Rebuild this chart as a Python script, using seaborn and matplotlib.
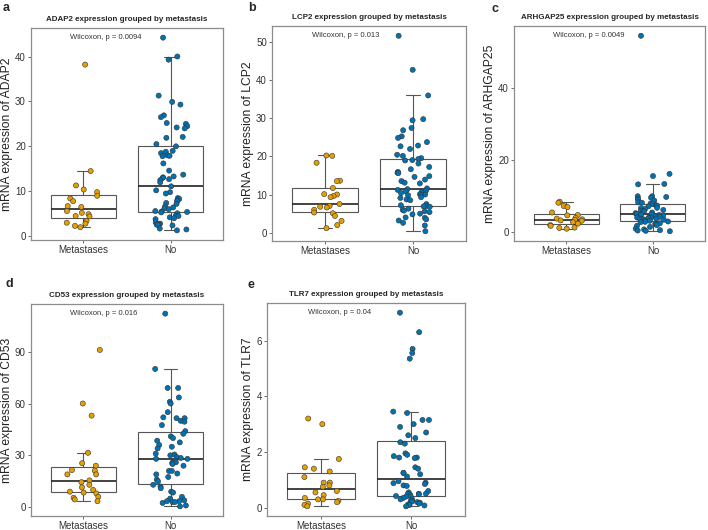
import numpy as np
import pandas as pd
import matplotlib
matplotlib.use("Agg")
import matplotlib.pyplot as plt
import seaborn as sns

groups = ["Metastases", "No"]

adap2_met = [38.2, 14.5, 11.3, 10.4, 9.8, 9.0, 8.4, 7.8, 6.7, 6.5, 5.6, 5.2, 4.9, 4.5,
             4.4, 3.4, 3.0, 2.8, 2.3, 2.0]
adap2_no = [44.2, 40.0, 39.3, 31.3, 29.9, 29.3, 26.9, 26.5, 25.2, 25.0, 24.5, 24.2, 24.0,
            22.1, 21.9, 20.5, 20.0, 19.0, 18.8, 18.5, 18.0, 17.9, 17.8, 16.2, 14.6, 13.7,
            13.3, 13.1, 13.0, 12.7, 12.5, 12.0, 11.1, 10.2, 9.8, 9.5, 8.5, 8.3, 8.0, 7.8,
            7.4, 7.2, 6.6, 6.4, 6.2, 6.0, 5.6, 5.5, 5.4, 5.3, 5.1, 4.6, 4.5, 4.2, 4.0, 3.8,
            3.1, 2.8, 2.7, 2.6, 2.5, 2.4, 1.7, 1.5, 1.3]

lcp2_met = [20.2, 20.1, 18.3, 13.6, 13.5, 11.7, 10.1, 10.0, 9.6, 9.3, 7.5, 7.0, 6.8, 6.6,
            6.0, 5.3, 5.1, 4.4, 3.1, 2.0, 1.2]
lcp2_no = [51.5, 42.6, 35.9, 29.7, 29.4, 27.4, 26.8, 25.2, 24.8, 23.7, 22.8, 22.6, 21.9,
           20.4, 20.1, 19.5, 19.3, 19.0, 18.9, 18.1, 17.2, 16.6, 15.9, 15.7, 15.6, 14.8,
           14.6, 13.9, 13.5, 13.1, 12.9, 11.6, 11.4, 11.2, 11.0, 10.8, 10.6, 10.4, 10.1,
           10.0, 9.9, 9.8, 9.3, 9.1, 8.7, 8.5, 7.5, 7.2, 7.0, 6.9, 6.8, 6.3, 6.0, 5.8,
           5.6, 5.4, 5.0, 4.8, 4.0, 3.9, 3.5, 3.2, 2.6, 1.9, 0.4]

arhgap25_met = [8.5, 8.2, 7.3, 7.0, 5.5, 4.8, 4.7, 4.0, 3.8, 3.6, 3.5, 3.3, 3.2, 2.8, 2.4,
                2.0, 1.8, 1.3, 1.2, 1.0]
arhgap25_no = [54.5, 16.2, 15.6, 13.4, 13.3, 10.0, 10.0, 9.8, 9.6, 9.4, 9.0, 8.8, 8.3, 8.2,
               8.0, 7.8, 7.5, 7.4, 7.2, 6.8, 6.7, 6.5, 6.2, 6.0, 5.9, 5.8, 5.5, 5.3, 5.1,
               5.0, 4.9, 4.8, 4.7, 4.5, 4.3, 4.2, 4.1, 4.0, 3.9, 3.8, 3.7, 3.6, 3.5, 3.3,
               3.2, 3.0, 2.9, 2.8, 2.5, 2.3, 2.0, 1.8, 1.5, 1.0, 0.8, 0.6, 0.5, 0.4, 0.3]

cd53_met = [91, 60, 53, 31.5, 25.5, 24, 21.5, 21.2, 19, 19, 15.5, 14.5, 13, 11.5, 10, 9,
            8.5, 8, 6, 5.5, 4.5, 3.5]
cd53_no = [112, 80, 69, 69, 63.5, 61, 60, 55, 52, 51.5, 51.5, 50, 49.5, 47.5, 44, 42.5,
           41, 40, 38.5, 37.5, 36, 35, 34, 31, 30.5, 30, 29, 28.5, 28, 28, 27, 26.5, 26,
           25.5, 25, 24, 21, 21, 19.5, 19, 17.5, 16, 15, 13, 12, 11, 9, 8.5, 6, 5, 4,
           3.5, 3.5, 3, 3, 2.5, 1, 0.5]

tlr7_met = [3.2, 3.0, 1.75, 1.45, 1.4, 1.3, 1.1, 0.9, 0.9, 0.8, 0.75, 0.6, 0.55, 0.45,
            0.35, 0.3, 0.3, 0.25, 0.2, 0.15, 0.1, 0.05]
tlr7_no = [7.0, 6.3, 5.7, 5.55, 5.35, 3.45, 3.4, 3.15, 3.15, 3.0, 2.9, 2.7, 2.6, 2.5, 2.35,
           2.3, 1.95, 1.9, 1.85, 1.8, 1.8, 1.78, 1.45, 1.4, 1.25, 1.25, 1.2, 1.12, 0.95,
           0.9, 0.88, 0.85, 0.8, 0.78, 0.6, 0.55, 0.5, 0.5, 0.5, 0.48, 0.45, 0.42, 0.4,
           0.4, 0.35, 0.3, 0.3, 0.25, 0.22, 0.2, 0.18, 0.15, 0.12, 0.1, 0.08, 0.05]

genes = ["ADAP2", "LCP2", "ARHGAP25", "CD53", "TLR7"]
letters = ["a", "b", "c", "d", "e"]
pvals = ["0.0094", "0.013", "0.0049", "0.016", "0.04"]
met_data = [adap2_met, lcp2_met, arhgap25_met, cd53_met, tlr7_met]
no_data = [adap2_no, lcp2_no, arhgap25_no, cd53_no, tlr7_no]
yticks = [[0, 10, 20, 30, 40], [0, 10, 20, 30, 40, 50], [0, 20, 40], [0, 30, 60, 90], [0, 2, 4, 6]]

palette = {"Metastases": "#E69F00", "No": "#0072B2"}

sns.set_theme(style="white")
plt.rcParams['font.family'] = ['Liberation Sans', 'DejaVu Sans']

fig = plt.figure(figsize=(7.08, 5.30), dpi=100)

# axes boxes in pixels: left, top, right, bottom
boxes = [(31, 28, 223, 240), (272, 26, 466, 241), (514, 26, 705, 241),
         (31, 304, 223, 516), (267, 303, 465, 516)]
letter_pos = [(3, 8), (248, 8), (491, 9), (5, 284), (248, 285)]

np.random.seed(3)
for i, gene in enumerate(genes):
    l, t, r, b = boxes[i]
    ax = fig.add_axes([l / 708, 1 - b / 530, (r - l) / 708, (b - t) / 530])
    df = pd.DataFrame({
        "group": ["Metastases"] * len(met_data[i]) + ["No"] * len(no_data[i]),
        "value": met_data[i] + no_data[i],
    })
    sns.boxplot(data=df, x="group", y="value", order=groups, ax=ax, width=0.75,
                showfliers=False, color="white", linewidth=0.8, linecolor="#555555",
                capwidths=0.15,
                medianprops=dict(color="#222222", linewidth=1.2))
    sns.stripplot(data=df, x="group", y="value", order=groups, hue="group",
                  palette=palette, jitter=0.2, size=3.7, linewidth=0.4,
                  edgecolor="#333333", ax=ax, legend=False)
    ymax = max(max(met_data[i]), max(no_data[i]))
    ax.text(-0.15, ymax, f"Wilcoxon, p = {pvals[i]}", ha="left", va="center",
            fontsize=5.5, color="#333333")
    ax.set_xlim(-0.6, 1.6)
    lo = min(min(met_data[i]), min(no_data[i]))
    span = ymax - lo
    ax.set_ylim(lo - 0.05 * span, ymax + 0.05 * span)
    ax.set_yticks(yticks[i])
    ax.set_xlabel("")
    ax.set_ylabel(f"mRNA expression of {gene}", fontsize=8.7, color="#222222", labelpad=1.5)
    ax.set_title(f"{gene} expression grouped by metastasis", fontsize=5.8,
                 fontweight="bold", pad=5)
    ax.tick_params(axis="both", labelsize=7, colors="#555555", length=2.5, width=0.6,
                   pad=1.2, direction="out", left=True, bottom=True)
    ax.tick_params(axis="both", labelcolor="#333333")
    for s in ax.spines.values():
        s.set_color("#8c8c8c")
        s.set_linewidth(0.9)
    fig.text(letter_pos[i][0] / 708, 1 - letter_pos[i][1] / 530, letters[i],
             fontsize=9, fontweight="bold", ha="left", va="center")

fig.savefig("out.png", dpi=100)
